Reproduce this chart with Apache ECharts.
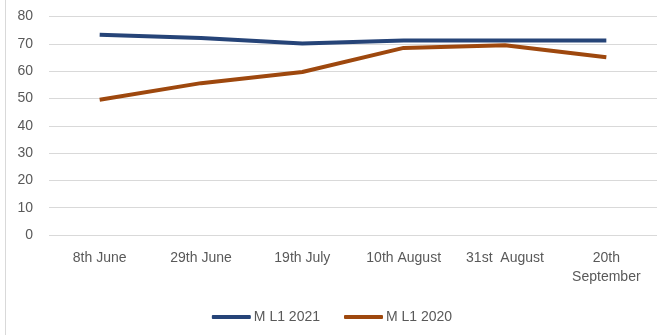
<!DOCTYPE html>
<html><head><meta charset="utf-8">
<script src="https://cdn.jsdelivr.net/npm/echarts@6/dist/echarts.min.js"></script>
<style>html,body{margin:0;padding:0;background:#fff}#c{width:664px;height:335px}</style>
</head><body><div id="c"></div>
<script>
const categories = ['8th June','29th June','19th July','10th August','31st  August','20th\nSeptember'];
const seriesNames = ['M L1 2021','M L1 2020'];
const ml2021 = [73.3, 72.1, 70.1, 71.2, 71.2, 71.2];
const ml2020 = [49.5, 55.6, 59.7, 68.5, 69.5, 65.1];
const yTicks = [0,10,20,30,40,50,60,70,80];

const chart = echarts.init(document.getElementById('c'));
const font = 'Liberation Sans, Arial, sans-serif';
chart.setOption({
  animation:false,
  grid:{left:49,right:7,top:16.5,bottom:100},
  graphic:[{type:'line',shape:{x1:5.5,y1:0,x2:5.5,y2:335},style:{stroke:'#d9d9d9',lineWidth:1}}],
  legend:{top:305,left:'center',itemWidth:39,itemHeight:4,itemGap:24,icon:'roundRect',
    textStyle:{fontFamily:font,fontSize:14,color:'#595959',padding:[0,0,0,-2]},data:seriesNames},
  xAxis:{type:'category',data:categories,boundaryGap:true,
    axisLine:{show:false},axisTick:{show:false},
    axisLabel:{margin:14,fontFamily:font,fontSize:14,color:'#595959',lineHeight:19}},
  yAxis:{type:'value',min:yTicks[0],max:yTicks[yTicks.length-1],interval:10,
    axisLine:{show:false},axisTick:{show:false},
    axisLabel:{margin:16,fontFamily:font,fontSize:14,color:'#595959'},
    splitLine:{lineStyle:{color:'#d9d9d9',width:1}}},
  series:[
    {name:seriesNames[0],type:'line',data:ml2021,symbol:'none',lineStyle:{color:'#264478',width:4},itemStyle:{color:'#264478'}},
    {name:seriesNames[1],type:'line',data:ml2020,symbol:'none',lineStyle:{color:'#9e480e',width:4},itemStyle:{color:'#9e480e'}}
  ]
});
</script></body></html>
